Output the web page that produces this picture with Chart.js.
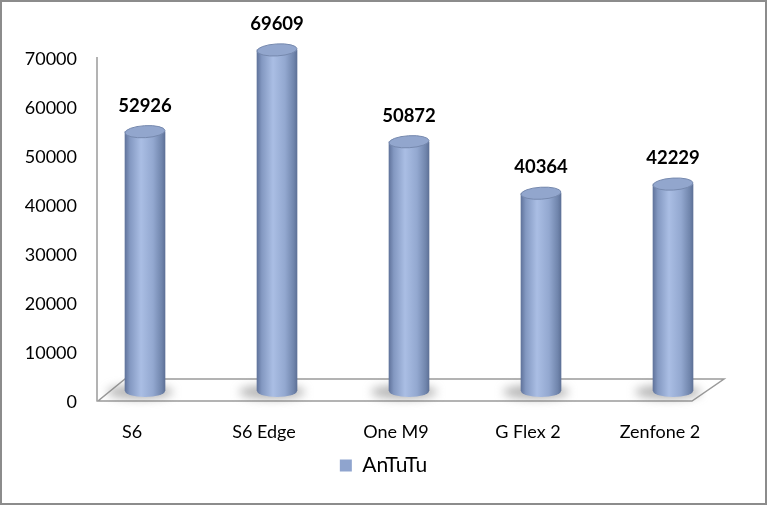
<!DOCTYPE html>
<html>
<head>
<meta charset="utf-8">
<script src="https://cdn.jsdelivr.net/npm/chart.js@4"></script>
<style>
  html, body { margin: 0; padding: 0; background: #fff; }
  #wrap { width: 767px; height: 505px; }
</style>
</head>
<body>
<div id="wrap"><canvas id="chart" width="767" height="505"></canvas></div>
<script>
// ===== Data =====
const phones = ["S6", "S6 Edge", "One M9", "G Flex 2", "Zenfone 2"];
const antutuScores = [52926, 69609, 50872, 40364, 42229];
const seriesName = "AnTuTu";
const yTicks = [0, 10000, 20000, 30000, 40000, 50000, 60000, 70000];

const FONT = "Lato, 'Open Sans', sans-serif";
const BAR_W = 40;

// horizontal gradient that makes a bar look like a cylinder
function cylinderFill(ctx, x0, x1) {
  const g = ctx.createLinearGradient(x0, 0, x1, 0);
  g.addColorStop(0, "#61749c");
  g.addColorStop(0.12, "#8398c1");
  g.addColorStop(0.4, "#aabee4");
  g.addColorStop(0.7, "#93a8d0");
  g.addColorStop(0.92, "#7085ac");
  g.addColorStop(1, "#5e7197");
  return g;
}

// ===== 3D pieces: frame, floor, shadows, cylinder caps, value labels =====
const decoPlugin = {
  id: "deco",
  beforeDatasetsDraw(chart) {
    const { ctx, chartArea: a } = chart;
    ctx.save();
    // floor
    ctx.strokeStyle = "#9a9a9a";
    ctx.lineWidth = 1.5;
    ctx.beginPath();
    ctx.moveTo(a.left + 19, a.bottom + 10);
    ctx.lineTo(a.right - 47, a.bottom + 10);
    ctx.lineTo(a.right - 15, a.bottom - 12);
    ctx.lineTo(a.left + 46, a.bottom - 12);
    ctx.closePath();
    ctx.stroke();
    // left wall edge
    ctx.beginPath();
    ctx.moveTo(a.left + 18, a.top + 9);
    ctx.lineTo(a.left + 18, a.bottom + 10);
    ctx.stroke();

    // shadows under the cylinders
    const meta = chart.getDatasetMeta(0);
    meta.data.forEach((bar) => {
      ctx.save();
      ctx.filter = "blur(5px)";
      ctx.fillStyle = "rgba(120,120,120,0.55)";
      ctx.beginPath();
      ctx.ellipse(bar.x - 5, bar.base + 1, 33, 7, 0, 0, Math.PI * 2);
      ctx.fill();
      ctx.restore();
    });
    ctx.restore();
  },
  afterDatasetsDraw(chart) {
    const { ctx } = chart;
    const meta = chart.getDatasetMeta(0);
    ctx.save();
    meta.data.forEach((bar, i) => {
      const r = bar.width / 2;
      // rounded bottom
      ctx.fillStyle = cylinderFill(ctx, bar.x - r, bar.x + r);
      ctx.beginPath();
      ctx.ellipse(bar.x, bar.base, r, 6, 0, 0, Math.PI);
      ctx.fill();
      // top cap
      ctx.fillStyle = "#92a6cd";
      ctx.strokeStyle = "#7689ae";
      ctx.lineWidth = 1;
      ctx.beginPath();
      ctx.ellipse(bar.x, bar.y, r, 6, -0.06, 0, Math.PI * 2);
      ctx.fill();
      ctx.stroke();
      // value label
      ctx.fillStyle = "#000";
      ctx.font = "bold 18.5px " + FONT;
      ctx.textAlign = "center";
      ctx.textBaseline = "middle";
      ctx.fillText(String(antutuScores[i]), bar.x, bar.y - 26);
    });
    ctx.restore();
  },
  afterDraw(chart) {
    const { ctx, width, height } = chart;
    ctx.save();
    ctx.strokeStyle = "#8c8c8c";
    ctx.lineWidth = 2;
    ctx.strokeRect(1, 1, width - 2, height - 2);
    ctx.restore();
  },
};

// ===== Chart =====
new Chart(document.getElementById("chart").getContext("2d"), {
  type: "bar",
  data: {
    labels: phones,
    datasets: [
      {
        label: seriesName,
        data: antutuScores,
        backgroundColor: (c) => {
          const xs = c.chart.scales && c.chart.scales.x;
          if (!xs || c.dataIndex === undefined) return "#8fa4ce";
          const cx = xs.getPixelForValue(c.dataIndex);
          if (!isFinite(cx)) return "#8fa4ce";
          return cylinderFill(c.chart.ctx, cx - BAR_W / 2, cx + BAR_W / 2);
        },
        borderWidth: 0,
        barThickness: BAR_W,
      },
    ],
  },
  options: {
    responsive: false,
    animation: false,
    events: [],
    layout: { padding: { left: 0, top: 48, right: 0, bottom: 19 } },
    plugins: {
      tooltip: { enabled: false },
      legend: {
        position: "bottom",
        labels: {
          font: { family: FONT, size: 21 },
          color: "#000",
          boxWidth: 12,
          boxHeight: 12,
          padding: 9,
          generateLabels: () => [
            { text: seriesName, fillStyle: "#8fa4ce", strokeStyle: "#8fa4ce", lineWidth: 0, datasetIndex: 0 },
          ],
        },
      },
    },
    scales: {
      x: {
        grid: { display: false, drawTicks: false },
        border: { display: false },
        ticks: {
          font: { family: FONT, size: 18 },
          color: "#000",
          padding: 30,
          labelOffset: -13,
          maxRotation: 0,
        },
        afterFit: (s) => { s.height = 55; },
      },
      y: {
        min: 0,
        max: 70000,
        grid: { display: false, drawTicks: false },
        border: { display: false },
        afterBuildTicks: (s) => { s.ticks = yTicks.map((v) => ({ value: v })); },
        ticks: {
          font: { family: FONT, size: 18 },
          color: "#000",
          padding: 2,
          labelOffset: 11,
          callback: (v) => String(v),
        },
        afterFit: (s) => { s.width = 79; },
      },
      // empty right-hand spacer so the legend stays centred on the whole canvas
      yRight: {
        type: "linear",
        position: "right",
        display: true,
        grid: { display: false, drawTicks: false },
        border: { display: false },
        ticks: { display: false },
        afterFit: (s) => { s.width = 28; },
      },
    },
  },
  plugins: [decoPlugin],
});
</script>
</body>
</html>
